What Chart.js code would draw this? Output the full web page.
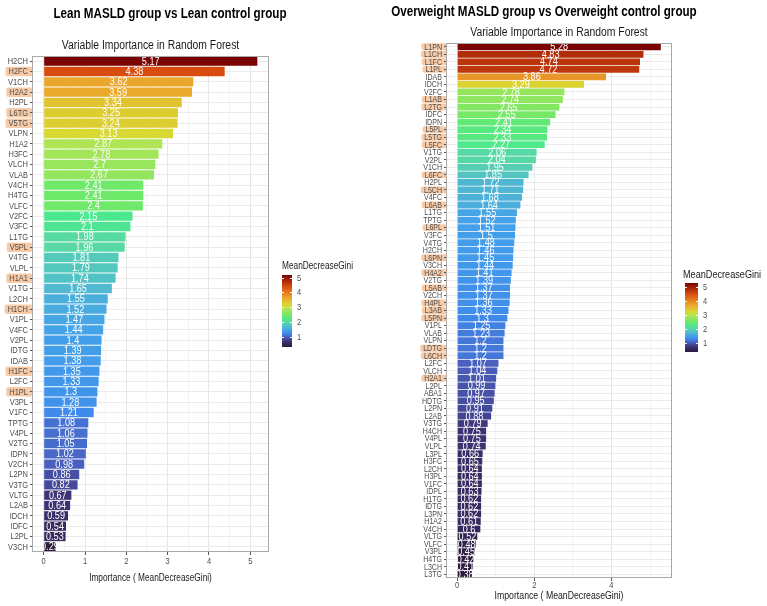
<!DOCTYPE html>
<html><head><meta charset="utf-8">
<script src="https://cdn.jsdelivr.net/npm/chart.js@4.4.1/dist/chart.umd.min.js"></script>
<style>
html,body{margin:0;padding:0;background:#fff;width:767px;height:606px;overflow:hidden}
#c1{position:absolute;left:0;top:0}
#c2{position:absolute;left:383px;top:0}
</style></head><body>
<canvas id="c1" width="383" height="606"></canvas>
<canvas id="c2" width="384" height="606"></canvas>
<script>
// ---- data ----
const leanLabels = ['H2CH','H2FC','V1CH','H2A2','H2PL','L6TG','V5TG','VLPN','H1A2','H3FC','VLCH','VLAB','V4CH','H4TG','VLFC','V2FC','V3FC','L1TG','V5PL','V4TG','VLPL','H1A1','V1TG','L2CH','H1CH','V1PL','V4FC','V2PL','IDTG','IDAB','H1FC','L2FC','H1PL','V3PL','V1FC','TPTG','V4PL','V2TG','IDPN','V2CH','L2PN','V3TG','VLTG','L2AB','IDCH','IDFC','L2PL','V3CH'];
const leanValues = [5.17,4.38,3.62,3.59,3.34,3.25,3.24,3.13,2.87,2.78,2.7,2.67,2.41,2.41,2.4,2.15,2.1,1.98,1.96,1.81,1.79,1.74,1.65,1.55,1.52,1.47,1.44,1.4,1.39,1.38,1.35,1.33,1.3,1.28,1.21,1.08,1.06,1.05,1.02,0.98,0.86,0.82,0.67,0.64,0.59,0.54,0.53,0.29];
const leanHighlighted = ['H2FC','H2A2','L6TG','V5TG','V5PL','H1A1','H1CH','H1FC','H1PL'];

const owLabels = ['L1PN','L1CH','L1FC','L1PL','IDAB','IDCH','V2FC','L1AB','L2TG','IDFC','IDPN','L5PL','L5TG','L5FC','V1TG','V2PL','V1CH','L6FC','H2PL','L5CH','V4FC','L6AB','L1TG','TPTG','L6PL','V3FC','V4TG','H2CH','L6PN','V3CH','H4A2','V2TG','L5AB','V2CH','H4PL','L3AB','L5PN','V1PL','VLAB','VLPN','LDTG','L6CH','L2FC','VLCH','H2A1','L2PL','ABA1','HDTG','L2PN','L2AB','V3TG','H4CH','V4PL','VLPL','L3PL','H3FC','L2CH','H3PL','V1FC','IDPL','H1TG','IDTG','L3PN','H1A2','V4CH','VLTG','VLFC','V3PL','H4TG','L3CH','L3TG'];
const owValues = [5.28,4.83,4.74,4.72,3.86,3.29,2.78,2.74,2.65,2.55,2.41,2.34,2.33,2.27,2.06,2.04,1.95,1.85,1.72,1.71,1.68,1.64,1.55,1.52,1.51,1.5,1.48,1.46,1.45,1.44,1.41,1.39,1.37,1.37,1.36,1.33,1.3,1.25,1.23,1.2,1.2,1.2,1.07,1.04,1.01,0.99,0.97,0.95,0.91,0.88,0.79,0.75,0.75,0.74,0.66,0.65,0.64,0.64,0.64,0.63,0.62,0.62,0.62,0.61,0.6,0.52,0.48,0.45,0.42,0.41,0.38];
const owHighlighted = ['L1PN','L1CH','L1FC','L1PL','L1AB','L2TG','L5PL','L5TG','L5FC','L6FC','L5CH','L6AB','L6PL','L6PN','H4A2','L5AB','H4PL','L3AB','L5PN','LDTG','L6CH','H2A1'];

const leanXTicks = [0,1,2,3,4,5];
const owXTicks = [0,2,4];
const legendTicks = [1,2,3,4,5];

const leanTitle = 'Lean MASLD group vs Lean control group';
const owTitle = 'Overweight MASLD group vs Overweight control group';
const subTitle = 'Variable Importance in Random Forest';
const xTitle = 'Importance ( MeanDecreaseGini)';
const legendTitle = 'MeanDecreaseGini';

// ---- style ----
const FONT = '"Liberation Sans", Arial, sans-serif';
const SX = 0.83; // horizontal text compression of the reference
const PAL = [[0,'#2b1a3c'],[0.08,'#3e3577'],[0.14,'#4a5fbe'],[0.19,'#3f8bec'],[0.23,'#44a0ea'],[0.28,'#52bad0'],[0.35,'#58dca0'],[0.38,'#4be88f'],[0.43,'#6ce96a'],[0.53,'#b0e455'],[0.58,'#d8d932'],[0.68,'#eaa82c'],[0.84,'#d94b0f'],[1,'#7a0403']];
function hex2rgb(h){return [parseInt(h.slice(1,3),16),parseInt(h.slice(3,5),16),parseInt(h.slice(5,7),16)];}
function pal(t){
  t=Math.max(0,Math.min(1,t));
  for(let i=1;i<PAL.length;i++){
    if(t<=PAL[i][0]){
      const [t0,c0]=PAL[i-1],[t1,c1]=PAL[i];
      const f=(t-t0)/(t1-t0);const a=hex2rgb(c0),b=hex2rgb(c1);
      return 'rgb('+a.map((v,k)=>Math.round(v+(b[k]-v)*f)).join(',')+')';
    }
  }
  return PAL[PAL.length-1][1];
}
function txt(ctx,s,x,y,align,font,color){
  ctx.save();
  ctx.font=font;ctx.fillStyle=color;ctx.textAlign=align;ctx.textBaseline='middle';
  ctx.translate(x,y);ctx.scale(SX,1);ctx.fillText(s,0,0);
  ctx.restore();
}

function build(id, cfg){
  const canvas=document.getElementById(id);
  const W=canvas.width,H=canvas.height;
  const vmin=Math.min(...cfg.values), vmax=Math.max(...cfg.values);
  const colors=cfg.values.map(v=>pal((v-vmin)/(vmax-vmin)));
  const A=cfg.area;
  const hl=new Set(cfg.highlighted);
  const yFontStr=cfg.yFont+'px '+FONT;

  const deco={
    id:'deco',
    beforeDraw(chart){
      const ctx=chart.ctx, ys=chart.scales.y, ca=chart.chartArea;
      ctx.save();
      ctx.font=yFontStr;
      ctx.fillStyle='#f8cba8';
      const step=ys.getPixelForValue(1)-ys.getPixelForValue(0);
      chart.data.labels.forEach((lab,i)=>{
        if(!hl.has(lab))return;
        const y=ys.getPixelForValue(i);
        const w=ctx.measureText(lab).width*SX;
        const x0=ca.left-cfg.tickLen-cfg.yPad-w-3;
        const h=step*0.92;
        ctx.beginPath();
        ctx.roundRect(x0,y-h/2,ca.left-x0,h,2);
        ctx.fill();
      });
      ctx.restore();
    },
    afterDatasetsDraw(chart){
      const ctx=chart.ctx;
      chart.getDatasetMeta(0).data.forEach((el,i)=>{
        txt(ctx,String(cfg.values[i]),(el.x+el.base)/2,el.y+0.5,'center',cfg.valFont+'px '+FONT,'#ffffff');
      });
    },
    afterDraw(chart){
      const ctx=chart.ctx, ca=chart.chartArea, xs=chart.scales.x, ys=chart.scales.y;
      ctx.save();
      ctx.strokeStyle='#a9a9a9';ctx.lineWidth=1;
      ctx.strokeRect(Math.round(ca.left)-0.5,Math.round(ca.top)+0.5,Math.round(ca.right-ca.left)+1,Math.round(ca.bottom-ca.top)-1);
      ctx.restore();
      // y labels
      chart.data.labels.forEach((lab,i)=>{
        txt(ctx,lab,ca.left-cfg.tickLen-cfg.yPad,ys.getPixelForValue(i)+0.5,'right',yFontStr,'#4d4d4d');
      });
      // x tick labels
      cfg.xTicks.forEach(v=>{
        txt(ctx,String(v),xs.getPixelForValue(v),ca.bottom+cfg.xTickOff,'center',cfg.xTickFont+'px '+FONT,'#4d4d4d');
      });
      txt(ctx,xTitle,(ca.left+ca.right)/2,cfg.xTitleY,'center',cfg.xTitleFont+'px '+FONT,'#1a1a1a');
      // titles
      txt(ctx,cfg.title,cfg.titleX,cfg.titleY,'center','bold '+cfg.titleFont+'px '+FONT,'#000');
      txt(ctx,subTitle,(ca.left+ca.right)/2,cfg.subY,'center',cfg.subFont+'px '+FONT,'#1a1a1a');
      // legend
      const L=cfg.legend;
      txt(ctx,legendTitle,L.titleX,L.titleY,'left',L.titleFont+'px '+FONT,'#1a1a1a');
      ctx.save();
      const g=ctx.createLinearGradient(0,L.bottom,0,L.top);
      for(let k=0;k<=40;k++){g.addColorStop(k/40,pal(k/40));}
      ctx.fillStyle=g;
      ctx.fillRect(L.x,L.top,L.w,L.bottom-L.top);
      ctx.strokeStyle='rgba(255,255,255,0.9)';
      legendTicks.forEach(v=>{
        const y=Math.round(L.bottom-(v-vmin)/(vmax-vmin)*(L.bottom-L.top))+0.5;
        ctx.beginPath();ctx.moveTo(L.x,y);ctx.lineTo(L.x+2,y);ctx.moveTo(L.x+L.w-2,y);ctx.lineTo(L.x+L.w,y);ctx.stroke();
        txt(ctx,String(v),L.x+L.w+5,y,'left',L.labFont+'px '+FONT,'#4d4d4d');
      });
      ctx.restore();
    }
  };

  return new Chart(canvas,{
    type:'bar',
    data:{labels:cfg.labels,datasets:[{data:cfg.values,backgroundColor:colors,borderWidth:0,barPercentage:0.9,categoryPercentage:1}]},
    options:{
      responsive:false,animation:false,indexAxis:'y',
      layout:{padding:{left:0,top:A.top,right:W-A.right,bottom:H-A.bottom-cfg.xAxisH}},
      plugins:{legend:{display:false},tooltip:{enabled:false},title:{display:false}},
      scales:{
        x:{
          type:'linear',min:-0.05*vmax,max:1.05*vmax,
          afterFit:s=>{s.height=cfg.xAxisH;},
          border:{display:false},
          grid:{
            color:c=>cfg.xTicks.includes(c.tick&&c.tick.value)?'#e6e6e6':'#f2f2f2',
            tickColor:c=>cfg.xTicks.includes(c.tick&&c.tick.value)?'#555':'rgba(0,0,0,0)',
            tickLength:3,lineWidth:1
          },
          ticks:{stepSize:cfg.minorStep,includeBounds:false,autoSkip:false,maxRotation:0,padding:1,color:'rgba(0,0,0,0)',
            font:{family:FONT,size:cfg.xTickFont},
            callback:v=>cfg.xTicks.includes(v)?String(v):''},
          title:{display:false}
        },
        y:{
          type:'category',
          afterFit:s=>{s.width=A.left;},
          border:{display:false},
          grid:{offset:false,color:'#ebebeb',tickColor:'#555',tickLength:cfg.tickLen,lineWidth:1},
          ticks:{autoSkip:false,padding:cfg.yPad,color:'rgba(0,0,0,0)',font:{family:FONT,size:cfg.yFont}}
        }
      }
    },
    plugins:[deco]
  });
}

build('c1',{
  labels:leanLabels,values:leanValues,highlighted:leanHighlighted,
  area:{left:33,right:268,top:56,bottom:552},xAxisH:33,
  xTicks:leanXTicks,minorStep:0.5,
  yFont:9,valFont:11,xTickFont:9,xTitleFont:10,tickLen:3,yPad:2,xTickOff:10,xTitleY:578,
  title:leanTitle,titleX:170,titleY:14,titleFont:14,subFont:12.5,subY:46,
  legend:{titleX:282,titleY:266,titleFont:10,x:282,w:10,top:275,bottom:347,labFont:9}
});
build('c2',{
  labels:owLabels,values:owValues,highlighted:owHighlighted,
  area:{left:64,right:288,top:43,bottom:578},xAxisH:25,
  xTicks:owXTicks,minorStep:1,
  yFont:8.5,valFont:11,xTickFont:9,xTitleFont:10.5,tickLen:3,yPad:2,xTickOff:8,xTitleY:596,
  title:owTitle,titleX:161,titleY:12,titleFont:14,subFont:12.5,subY:33,
  legend:{titleX:300,titleY:275,titleFont:11,x:302,w:13,top:283,bottom:352,labFont:9}
});
</script>
</body></html>
